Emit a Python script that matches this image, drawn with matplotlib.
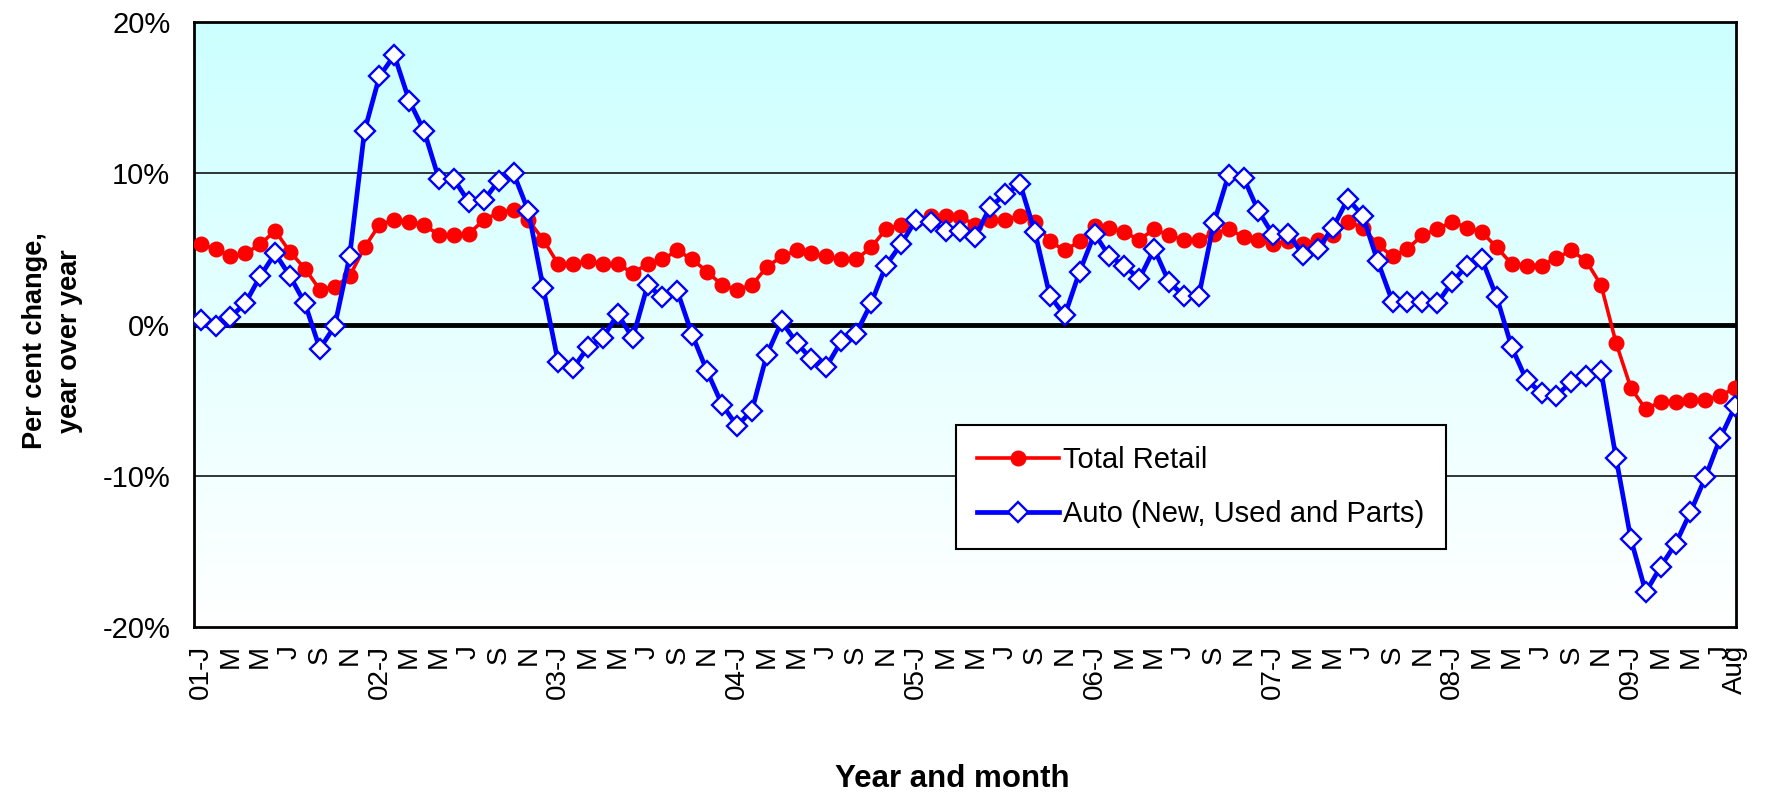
import numpy as np
import matplotlib
matplotlib.use("Agg")
import matplotlib.pyplot as plt
from matplotlib.colors import LinearSegmentedColormap

plt.rcParams['font.family'] = ['Liberation Sans', 'DejaVu Sans']

# Monthly year-over-year change, Jan 2001 .. Aug 2009
total_retail = [
    5.3, 5.0, 4.5, 4.7, 5.3, 6.2, 4.8, 3.7, 2.3, 2.5, 3.2, 5.1,   # 2001
    6.6, 6.9, 6.8, 6.6, 5.9, 5.9, 6.0, 6.9, 7.4, 7.6, 6.9, 5.6,   # 2002
    4.0, 4.0, 4.2, 4.0, 4.0, 3.4, 4.0, 4.3, 4.9, 4.3, 3.5, 2.6,   # 2003
    2.3, 2.6, 3.8, 4.5, 4.9, 4.7, 4.5, 4.3, 4.3, 5.1, 6.3, 6.6,   # 2004
    6.9, 7.2, 7.2, 7.1, 6.6, 6.9, 6.9, 7.2, 6.8, 5.5, 4.9, 5.5,   # 2005
    6.5, 6.4, 6.1, 5.6, 6.3, 5.9, 5.6, 5.6, 6.0, 6.3, 5.8, 5.6,   # 2006
    5.3, 5.5, 5.3, 5.6, 5.9, 6.8, 6.4, 5.3, 4.5, 5.0, 5.9, 6.3,   # 2007
    6.8, 6.4, 6.1, 5.1, 4.0, 3.9, 3.9, 4.4, 4.9, 4.2, 2.6, -1.2,  # 2008
    -4.2, -5.6, -5.1, -5.1, -5.0, -5.0, -4.7, -4.2,              # 2009
]
auto = [
    0.3, -0.1, 0.5, 1.4, 3.2, 4.7, 3.2, 1.4, -1.6, -0.1, 4.5, 12.8,
    16.4, 17.8, 14.8, 12.8, 9.6, 9.6, 8.1, 8.2, 9.5, 10.0, 7.5, 2.4,
    -2.5, -2.9, -1.5, -0.9, 0.7, -0.9, 2.6, 1.8, 2.2, -0.7, -3.1, -5.3,
    -6.7, -5.7, -2.0, 0.2, -1.2, -2.3, -2.8, -1.1, -0.6, 1.4, 3.9, 5.3,
    6.9, 6.8, 6.2, 6.2, 5.8, 7.8, 8.6, 9.3, 6.1, 1.9, 0.6, 3.5,
    6.0, 4.5, 3.9, 3.0, 5.0, 2.8, 1.9, 1.9, 6.7, 9.9, 9.7, 7.5,
    5.9, 6.0, 4.6, 5.0, 6.4, 8.3, 7.2, 4.2, 1.5, 1.5, 1.5, 1.4,
    2.8, 3.9, 4.3, 1.8, -1.5, -3.7, -4.5, -4.7, -3.8, -3.4, -3.1, -8.8,
    -14.2, -17.7, -16.0, -14.5, -12.4, -10.1, -7.5, -5.4,
]
years = ['01', '02', '03', '04', '05', '06', '07', '08', '09']
month_letters = ['J', 'M', 'M', 'J', 'S', 'N']
last_label = 'Aug'

n = len(total_retail)
x = np.arange(n)

# tick every second month, January gets the year prefix
tick_pos = []
tick_lab = []
for i in range(0, n, 2):
    letter = month_letters[(i % 12) // 2]
    tick_pos.append(i)
    tick_lab.append(f"{years[i // 12]}-{letter}" if i % 12 == 0 else letter)
tick_pos.append(n - 1)
tick_lab.append(last_label)

fig = plt.figure(figsize=(17.71, 7.95), dpi=100)
ax = fig.add_axes([0.1095, 0.2113, 0.8707, 0.761])

xlim = (-0.45, n - 1 + 0.05)
ylim = (-20, 20)

# background gradient, cyan on top fading to white
bg = LinearSegmentedColormap.from_list('bg', ['#FFFFFF', '#E6FFFF', '#CCFFFF'])
ax.imshow(np.linspace(0, 1, 256).reshape(-1, 1), cmap=bg, origin='lower',
          extent=[xlim[0], xlim[1], ylim[0], ylim[1]], aspect='auto', zorder=0)

ax.axhline(10, color='black', lw=1.1, zorder=1)
ax.axhline(-10, color='black', lw=1.1, zorder=1)
ax.axhline(0, color='black', lw=3.5, zorder=2)

ax.plot(x, total_retail, color='#FF0000', lw=2.6, marker='o', ms=10.5,
        mfc='#FF0000', mec='#FF0000', label='Total Retail', zorder=3)
ax.plot(x, auto, color='#0000FF', lw=3.4, marker='D', ms=10.5,
        mfc='white', mec='#0000FF', mew=1.7,
        label='Auto (New, Used and Parts)', zorder=4)

ax.set_xlim(*xlim)
ax.set_ylim(*ylim)
ax.set_yticks([-20, -10, 0, 10, 20])
ax.set_yticklabels([f"{v}%" for v in [-20, -10, 0, 10, 20]], fontsize=21)
ax.set_xticks(tick_pos)
ax.set_xticklabels(tick_lab, rotation=90, fontsize=20)
ax.tick_params(axis='x', length=0, pad=13)
ax.tick_params(axis='y', length=0, pad=17)

for s in ax.spines.values():
    s.set_linewidth(2)
    s.set_color('black')

leg = ax.legend(loc='upper left', bbox_to_anchor=(0.4945, 0.334), fontsize=21,
                frameon=True, fancybox=False, edgecolor='black', framealpha=1,
                handlelength=2.8, handletextpad=0.15, labelspacing=0.9,
                borderpad=0.72, borderaxespad=0)
leg.get_frame().set_linewidth(1.5)

fig.text(0.0295, 1 - 341 / 795, "Per cent change,\nyear over year", rotation=90,
         ha='center', va='center', multialignment='center', linespacing=1.45,
         fontsize=19.5, fontweight='bold')
fig.text(952 / 1771, 1 - 779 / 795, "Year and month", ha='center', va='center',
         fontsize=22.5, fontweight='bold')

fig.savefig('out.png', dpi=100)
